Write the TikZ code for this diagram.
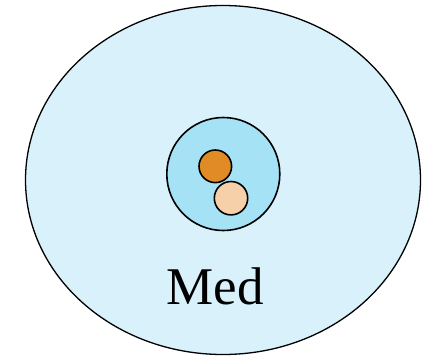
\documentclass[tikz,border=0pt]{standalone}
\usepackage{fontspec}
\setmainfont{Liberation Serif}
\definecolor{outerfill}{HTML}{D8F1FB}
\definecolor{innerfill}{HTML}{A6E2F6}
\definecolor{orangefill}{HTML}{E08B25}
\definecolor{peachfill}{HTML}{F5D0A8}
\begin{document}
\begin{tikzpicture}[x=1pt,y=-1pt,
  blob/.style={draw=black,line width=1.3pt},
  ball/.style={draw=black,line width=1.6pt,circle,inner sep=0pt}]
\useasboundingbox (0,0) rectangle (422,356);
\clip (0,0) rectangle (422,356);
\fill[white] (0,0) rectangle (422,356);
\draw[blob,fill=outerfill] (223,180) ellipse [x radius=197.5, y radius=174.5];
\node[ball,fill=innerfill,minimum size=113pt] (cell) at (223.3,174) {};
\node[ball,fill=orangefill,minimum size=32.6pt] (a) at (215.3,166.3) {};
\node[ball,fill=peachfill,minimum size=33.4pt] (b) at (231,198.2) {};
\node[anchor=base,inner sep=0pt,font=\fontsize{53}{60}\selectfont] (lbl) at (215,304) {Med};
\end{tikzpicture}
\end{document}
